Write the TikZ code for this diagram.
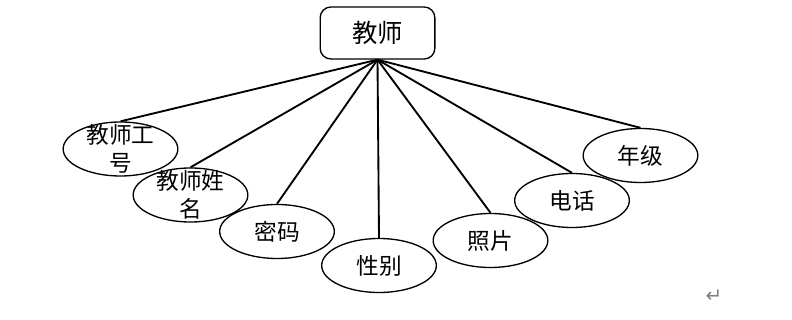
\documentclass[tikz,border=0pt]{standalone}
\usepackage{fontspec}
\newfontfamily\cjk{Noto Sans CJK SC}
\newfontfamily\symfont{DejaVu Sans}
\usetikzlibrary{shapes.geometric}

\begin{document}
\begin{tikzpicture}[x=0.75pt,y=-0.75pt,
  entity/.style={draw,line width=1pt,rounded corners=8pt,fill=white,
    minimum width=86pt,minimum height=39pt,font=\cjk\fontsize{19}{23}\selectfont},
  attr/.style={draw,ellipse,line width=1pt,fill=white,inner sep=0pt,
    minimum width=86pt,minimum height=40.5pt},
  attrtext/.style={align=center,inner sep=0pt,font=\cjk\fontsize{17}{21}\selectfont},
  link/.style={line width=1.4pt}]
  \useasboundingbox (0,0) rectangle (792,320);
  \node[entity] (teacher) at (377.5,33) {教师};
  \node[attr,label={[attrtext]center:教师工\\号}] (tid) at (120.5,149) {};
  \node[attr,label={[attrtext]center:教师姓\\名}] (tname) at (190.5,195) {};
  \node[attr,label={[attrtext]center:密码}] (pwd) at (277,231.5) {};
  \node[attr,label={[attrtext]center:性别}] (sex) at (379,265.5) {};
  \node[attr,label={[attrtext]center:照片}] (photo) at (490.5,240.5) {};
  \node[attr,label={[attrtext]center:电话}] (phone) at (572,200.5) {};
  \node[attr,label={[attrtext]center:年级}] (grade) at (640.5,155.5) {};
  \foreach \n in {tid,tname,pwd,sex,photo,phone,grade}
    \draw[link] (teacher.south) -- (\n.north);
  \node[text=gray,font=\symfont\fontsize{15}{15}\selectfont] (ret) at (714,296) {↵};
\end{tikzpicture}
\end{document}
